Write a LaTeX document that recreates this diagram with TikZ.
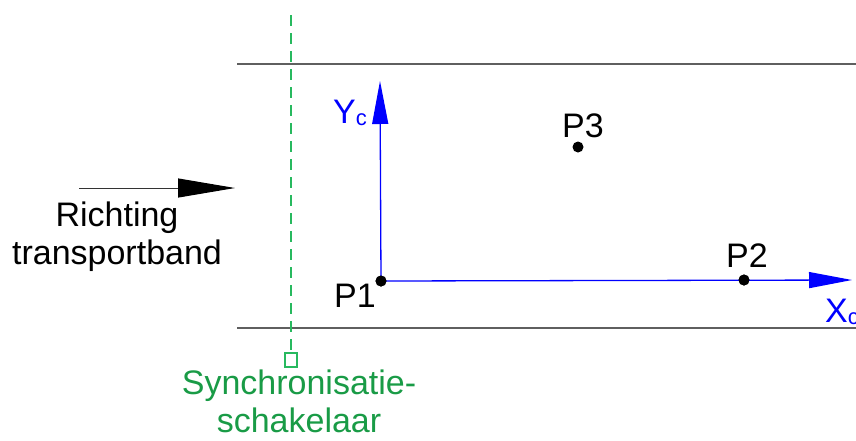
\documentclass[tikz,border=0pt]{standalone}
\usepackage{fontspec}
\setmainfont{Liberation Sans}
\usepackage{tikz}
\usetikzlibrary{positioning,arrows.meta}
\usepackage{xcolor}
\definecolor{beltgrey}{RGB}{95,95,95}
\definecolor{axisblue}{RGB}{0,0,255}
\definecolor{syncgreen}{RGB}{25,155,70}
\definecolor{dashgreen}{RGB}{40,185,95}
\newcommand{\smallsub}[1]{\raisebox{-0.06em}{\fontsize{22}{22}\selectfont #1}}

\begin{document}
\begin{tikzpicture}[x=1pt,y=-1pt,
  lbl/.style={font=\fontsize{34}{38}\selectfont,inner sep=0pt,anchor=base},
  dot/.style={circle,fill=black,inner sep=0pt,minimum size=11pt},
  belt/.style={beltgrey,line width=1.8pt},
  axis/.style={axisblue,line width=1.3pt,-{Triangle[length=43pt,width=16pt]}},
  switchbox/.style={draw=dashgreen,line width=1.2pt,inner sep=0pt,minimum width=12pt,minimum height=14pt}
]
\useasboundingbox (0,0) rectangle (856,440);
% transportband
\coordinate (btl) at (237,64);
\coordinate (btr) at (858,64);
\coordinate (bbl) at (237,328);
\coordinate (bbr) at (858,328);
\draw[belt] (btl) -- (btr);
\draw[belt] (bbl) -- (bbr);
% richting
\coordinate (rs) at (79,188);
\coordinate (re) at (235,188);
\draw[black!80,line width=1pt,-{Triangle[length=57pt,width=19pt,black]}] (rs) -- (re);
\node[lbl,anchor=center,align=center] (rich) at (117,237) {Richting\\transportband};
% synchronisatieschakelaar
\node[switchbox] (sw) at (291,360) {};
\coordinate (swtop) at (291,15);
\draw[dashgreen,line width=1.4pt,dash pattern=on 11pt off 7pt] (swtop) -- (sw.north);
\node[lbl,anchor=center,align=center,text=syncgreen] (swlbl) at (299,401) {Synchronisatie-\\schakelaar};
% assenstelsel
\node[dot] (p1) at (381,281) {};
\node[dot] (p2) at (744,280) {};
\node[dot] (p3) at (578,147) {};
\coordinate (xend) at (852,280);
\coordinate (yend) at (380,81);
\draw[axis] (p1.center) -- (xend);
\draw[axis] (p1.center) -- (yend);
\node[dot] at (p1) {};
\node[dot] at (p2) {};
\node[lbl] (p1lbl) at (355,307) {P1};
\node[lbl] (p2lbl) at (747,267) {P2};
\node[lbl] (p3lbl) at (583,137) {P3};
\node[lbl,text=axisblue,anchor=base west] (ylbl) at (333,123) {Y\smallsub{c}};
\node[lbl,text=axisblue,anchor=base west] (xlbl) at (825,322) {X\smallsub{c}};
\end{tikzpicture}
\end{document}
